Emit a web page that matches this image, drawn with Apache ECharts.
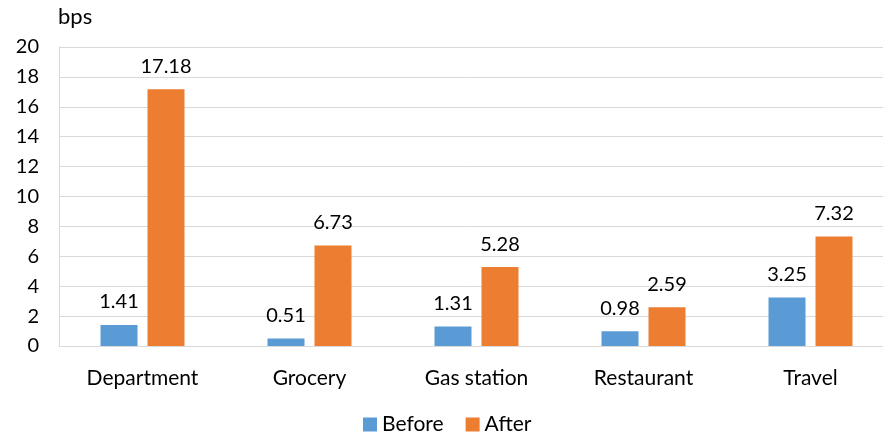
<!DOCTYPE html>
<html>
<head>
<meta charset="utf-8">
<script src="https://cdn.jsdelivr.net/npm/echarts@6/dist/echarts.min.js"></script>
<style>
  html, body { margin: 0; padding: 0; background: #fff; }
  #chart { width: 883px; height: 434px; }
</style>
</head>
<body>
<div id="chart"></div>
<script>
const categories = ['Department', 'Grocery', 'Gas station', 'Restaurant', 'Travel'];
const before = [1.41, 0.51, 1.31, 0.98, 3.25];
const after = [17.18, 6.73, 5.28, 2.59, 7.32];

const FONT = 'Lato';
const FS = 20;
const chart = echarts.init(document.getElementById('chart'));
const lbl = {
  show: true,
  position: 'top',
  distance: 13,
  fontFamily: FONT,
  fontSize: FS,
  color: '#000',
  formatter: p => p.value.toFixed(2)
};
chart.setOption({
  animation: false,
  textStyle: { fontFamily: FONT },
  grid: { left: 59, width: 835, top: 47, bottom: 88, outerBoundsMode: 'none' },
  legend: {
    top: 409,
    left: 358,
    itemWidth: 14,
    itemHeight: 14,
    itemGap: 22,
    icon: 'rect',
    textStyle: { fontFamily: FONT, fontSize: 21, color: '#000' },
    data: ['Before', 'After']
  },
  xAxis: {
    type: 'category',
    data: categories,
    axisLine: { lineStyle: { color: '#d9d9d9', width: 1 } },
    axisTick: { show: false },
    axisLabel: { fontFamily: FONT, fontSize: 21, color: '#000', margin: 22 }
  },
  yAxis: {
    type: 'value',
    min: 0,
    max: 20,
    interval: 2,
    name: 'bps',
    nameLocation: 'end',
    nameGap: 19,
    nameTextStyle: { fontFamily: FONT, fontSize: 22, color: '#000', align: 'left', padding: [0, 0, 0, -1] },
    axisLine: { show: true, lineStyle: { color: '#d9d9d9' } },
    axisTick: { show: false },
    splitLine: { lineStyle: { color: '#d9d9d9' } },
    axisLabel: { fontFamily: FONT, fontSize: FS, color: '#000', margin: 20 }
  },
  series: [
    {
      name: 'Before',
      type: 'bar',
      barWidth: 37,
      barGap: '27%',
      itemStyle: { color: '#5b9bd5' },
      label: lbl,
      data: before
    },
    {
      name: 'After',
      type: 'bar',
      barWidth: 37,
      barGap: '27%',
      itemStyle: { color: '#ed7d31' },
      label: lbl,
      data: after
    }
  ]
});
</script>
</body>
</html>
